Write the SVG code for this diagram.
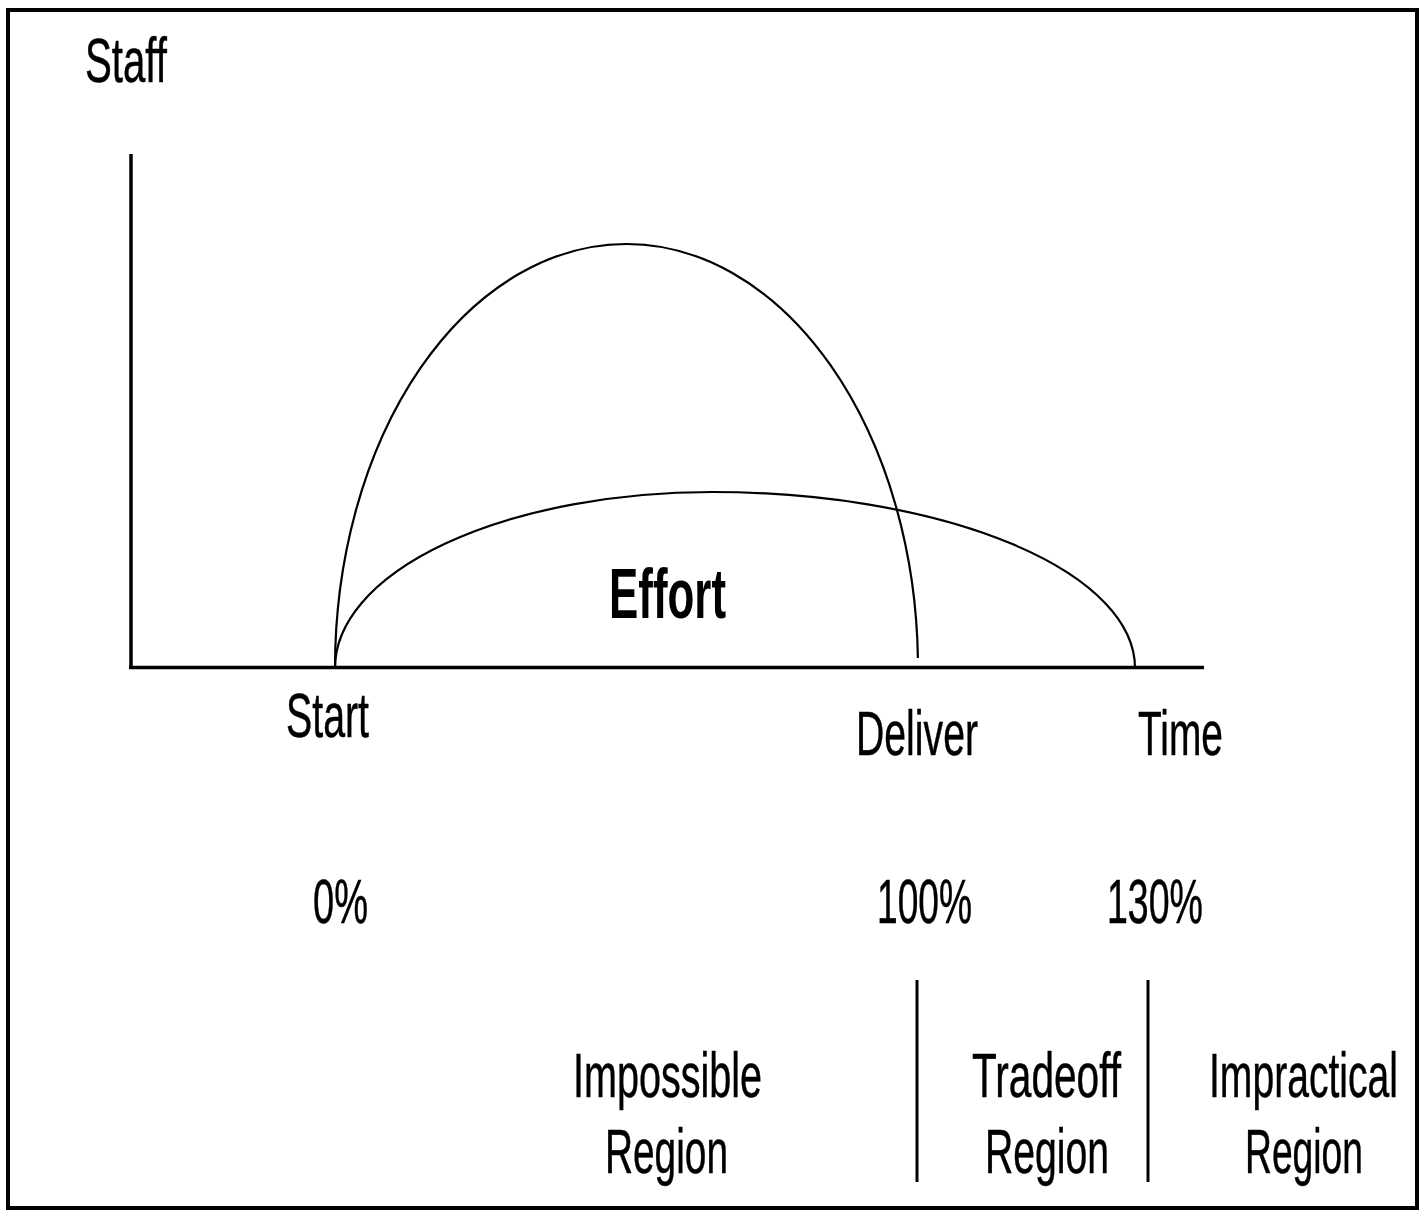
<svg xmlns="http://www.w3.org/2000/svg" width="1421" height="1211" viewBox="0 0 1421 1211">
<style>
.t{font-family:"Liberation Sans",Arial,sans-serif;font-size:63px;fill:#000;stroke:#000;stroke-width:0.5}
.b{font-family:"Liberation Sans",Arial,sans-serif;font-size:70px;font-weight:bold;fill:#000}
.ax{stroke:#000;stroke-width:3.5;fill:none}
.cv{stroke:#000;stroke-width:2.2;fill:none}
.dv{stroke:#000;stroke-width:3;fill:none}
</style>
<rect x="0" y="0" width="1421" height="1211" fill="#fff"/>
<rect id="frame" x="8" y="10" width="1409" height="1198" fill="none" stroke="#000" stroke-width="4"/>
<g id="axes">
<line class="ax" x1="131" y1="154" x2="131" y2="669"/>
<line class="ax" x1="129" y1="667.5" x2="1204" y2="667.5"/>
</g>
<g id="curves">
<path class="cv" d="M335,668 A291.5,424 0 0 1 626.5,244 A291.5,424 0 0 1 917.9,658"/>
<path class="cv" d="M335,668 A377,176 0 0 1 712,492 A423,176 0 0 1 1135,668"/>
</g>
<g id="dividers">
<line class="dv" x1="917" y1="980" x2="917" y2="1182"/>
<line class="dv" x1="1148" y1="980" x2="1148" y2="1182"/>
</g>
<g id="labels">
<text class="t" x="85" y="82" textLength="82" lengthAdjust="spacingAndGlyphs">Staff</text>
<text class="b" x="609" y="618" textLength="117" lengthAdjust="spacingAndGlyphs">Effort</text>
<text class="t" x="286" y="737" textLength="83" lengthAdjust="spacingAndGlyphs">Start</text>
<text class="t" x="856" y="755" textLength="122" lengthAdjust="spacingAndGlyphs">Deliver</text>
<text class="t" x="1138" y="755" textLength="85" lengthAdjust="spacingAndGlyphs">Time</text>
<text class="t" x="313" y="923" textLength="55" lengthAdjust="spacingAndGlyphs">0%</text>
<text class="t" x="877" y="923" textLength="95" lengthAdjust="spacingAndGlyphs">100%</text>
<text class="t" x="1107" y="923" textLength="96" lengthAdjust="spacingAndGlyphs">130%</text>
</g>
<g id="region-impossible">
<text class="t" x="573" y="1097" textLength="189" lengthAdjust="spacingAndGlyphs">Impossible</text>
<text class="t" x="605" y="1173" textLength="123" lengthAdjust="spacingAndGlyphs">Region</text>
</g>
<g id="region-tradeoff">
<text class="t" x="972" y="1097" textLength="149" lengthAdjust="spacingAndGlyphs">Tradeoff</text>
<text class="t" x="985" y="1173" textLength="124" lengthAdjust="spacingAndGlyphs">Region</text>
</g>
<g id="region-impractical">
<text class="t" x="1209" y="1097" textLength="189" lengthAdjust="spacingAndGlyphs">Impractical</text>
<text class="t" x="1245" y="1173" textLength="118" lengthAdjust="spacingAndGlyphs">Region</text>
</g>
</svg>
